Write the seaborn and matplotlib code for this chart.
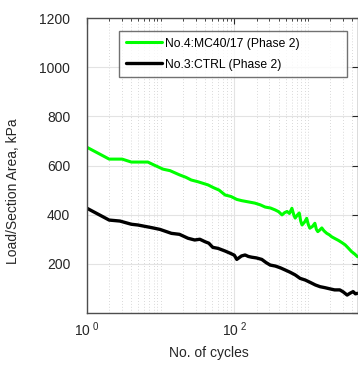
import numpy as np
import pandas as pd
import matplotlib
matplotlib.use("Agg")
import matplotlib.pyplot as plt
import matplotlib.ticker as mticker
import seaborn as sns

# data
green_x = [1, 2, 3, 4, 6.7, 8.4, 10.8, 13.4, 18, 22, 26, 32, 38, 44, 52, 62, 75, 90, 108, 126,
           155, 190, 225, 262, 310, 360, 400, 444, 480, 520, 560, 605, 640, 670, 715, 760, 795,
           830, 900, 960, 1010, 1060, 1150, 1240, 1300, 1360, 1450, 1540, 1650, 1800, 1950, 2100,
           2350, 2600, 2900, 3200, 3500, 3900, 4300, 4700]
green_y = [674, 626, 626, 614, 614, 600, 585, 579, 562, 552, 541, 534, 527, 521, 510, 500, 480, 474, 462, 457,
           452, 447, 440, 431, 427, 419, 412, 399, 408, 413, 405, 426, 400, 386, 398, 407, 375,
           358, 370, 385, 360, 345, 352, 365, 340, 331, 338, 346, 334, 324, 318, 310,
           302, 295, 286, 277, 265, 250, 240, 229]

black_x = [1, 2, 2.8, 4, 4.9, 7.6, 9.8, 14, 18, 23.5, 29, 34, 40, 45, 51, 60, 75, 88, 100, 108,
           125, 140, 155, 172, 200, 236, 270, 307, 360, 420, 490, 570, 670, 780, 920, 1080, 1260,
           1460, 1700, 2000, 2300, 2700, 3000, 3400, 3700, 4100, 4400, 4700]
black_y = [426, 378, 374, 361, 358, 347, 340, 324, 320, 304, 297, 300, 290, 284, 267, 263, 252, 243, 235, 218,
           232, 236, 230, 227, 224, 218, 205, 195, 191, 184, 175, 166, 155, 141, 134, 124, 114,
           107, 103, 98, 94, 94, 86, 73, 80, 87, 78, 80]

labels = ["No.4:MC40/17 (Phase 2)", "No.3:CTRL (Phase 2)"]

sns.set_style("white")
plt.rcParams["font.family"] = ["Liberation Sans", "DejaVu Sans"]
plt.rcParams["mathtext.fontset"] = "custom"
plt.rcParams["mathtext.rm"] = "Liberation Sans"

fig = plt.figure(figsize=(3.58, 3.67), dpi=100)
ax = fig.add_axes([87 / 358, 1 - 313 / 367, 270.5 / 358, 295 / 367])

df_g = pd.DataFrame({"x": green_x, "y": green_y})
df_b = pd.DataFrame({"x": black_x, "y": black_y})
sns.lineplot(data=df_g, x="x", y="y", ax=ax, color="#00ff00", lw=2.2, sort=False,
             estimator=None, label=labels[0])
sns.lineplot(data=df_b, x="x", y="y", ax=ax, color="black", lw=2.4, sort=False,
             estimator=None, label=labels[1])

ax.set_xscale("log")
ax.set_xlim(1, 4700)
ax.set_ylim(0, 1200)

ax.xaxis.set_major_locator(mticker.FixedLocator([1, 100, 10000]))
ax.xaxis.set_major_formatter(mticker.FuncFormatter(
    lambda v, p: r"$\mathregular{10^{\ %d}}$" % int(round(np.log10(v)))))
ax.xaxis.set_minor_locator(mticker.LogLocator(base=10, subs=np.arange(1, 10), numticks=20))
ax.xaxis.set_minor_formatter(mticker.NullFormatter())
ax.yaxis.set_major_locator(mticker.MultipleLocator(200))
ax.yaxis.set_major_formatter(mticker.FuncFormatter(lambda v, p: "" if v == 0 else "%d" % v))

ax.grid(True, which="major", color="#e3e3e3", lw=0.8, ls="-")
ax.grid(True, which="minor", axis="x", color="#cccccc", lw=0.6, ls=(0, (1, 2.5)))
ax.set_axisbelow(True)

ax.tick_params(axis="both", which="both", direction="in", top=True, right=True,
               colors="#262626", labelsize=10)
ax.tick_params(axis="x", which="major", length=4, pad=5)
ax.tick_params(axis="x", which="minor", length=2)
ax.tick_params(axis="y", which="major", length=4, pad=12)
for s in ax.spines.values():
    s.set_color("#4d4d4d")
    s.set_linewidth(1.0)

ax.set_xlabel("No. of cycles", fontsize=10, color="#262626")
ax.set_ylabel("Load/Section Area, kPa", fontsize=10, color="#262626")
ax.xaxis.set_label_coords(0.45, -0.112)
ax.yaxis.set_label_coords(-0.246, 0.412)

leg = ax.legend(loc="upper left", bbox_to_anchor=(0.119, 0.956, 0.844, 0.0), mode="expand",
                fontsize=8.7, frameon=True, fancybox=False, borderaxespad=0,
                handlelength=3.0, handletextpad=0.25, labelspacing=0.75, borderpad=0.55)
leg.get_frame().set_edgecolor("#4d4d4d")
leg.get_frame().set_linewidth(1.0)
for t in leg.get_texts():
    t.set_color("black")

fig.savefig("out.png", dpi=100)
